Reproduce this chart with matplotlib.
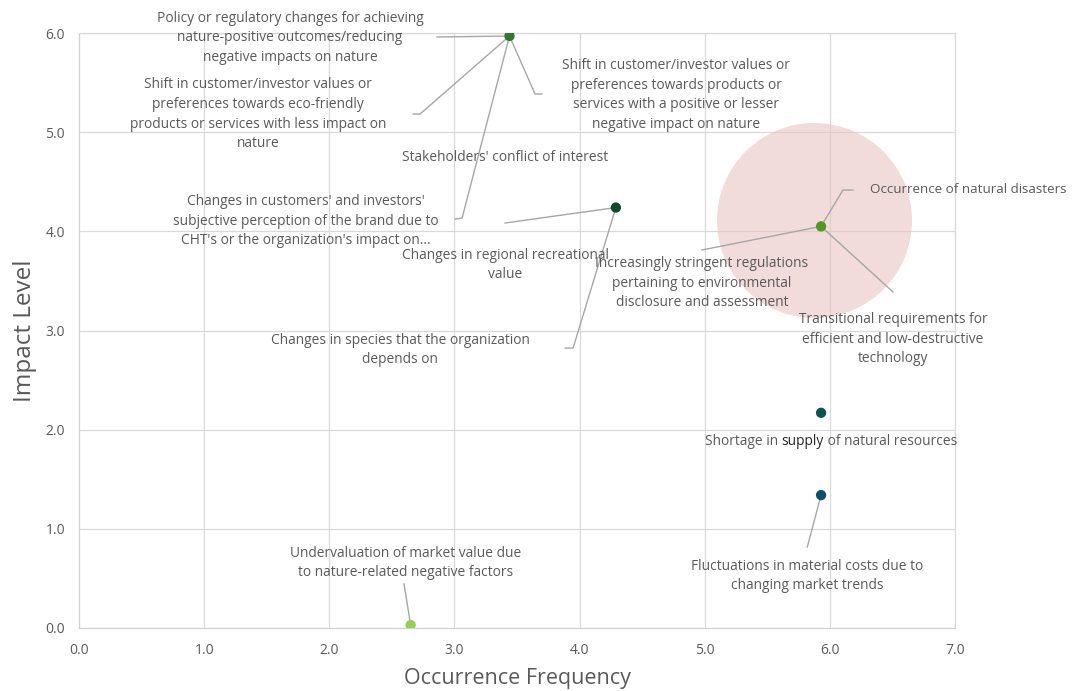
import matplotlib.pyplot as plt

# Risques nature : fréquence vs impact
occurrence = [3.44, 4.29, 5.93, 5.93, 5.93, 2.65]
impact = [5.97, 4.24, 4.05, 2.17, 1.34, 0.03]
point_colors = ['#2f7a2a', '#0f4a2a', '#4e9a1e', '#0b5552', '#0c4f6e', '#92d050']

# bulle de mise en avant
bubble_x = [5.87]
bubble_y = [4.11]

x_ticks = [0, 1, 2, 3, 4, 5, 6, 7]
y_ticks = [0, 1, 2, 3, 4, 5, 6]

# (texte, index du point, position du texte, coude du trait, fin du trait)
labels = [
    ("Policy or regulatory changes for achieving\nnature-positive outcomes/reducing\nnegative impacts on nature",
     0, (1.686, 5.95), None, (2.86, 5.96)),
    ("Shift in customer/investor values or\npreferences towards eco-friendly\nproducts or services with less impact on\nnature",
     0, (1.43, 5.18), (2.725, 5.183), (2.669, 5.183)),
    ("Shift in customer/investor values or\npreferences towards products or\nservices with a positive or lesser\nnegative impact on nature",
     0, (4.771, 5.375), (3.644, 5.385), (3.70, 5.385)),
    ("Stakeholders' conflict of interest", None, (3.404, 4.749), None, None),
    ("Changes in customers' and investors'\nsubjective perception of the brand due to\nCHT's or the organization's impact on...",
     0, (1.814, 4.104), (3.061, 4.134), (3.005, 4.124)),
    ("Changes in regional recreational\nvalue", 1, (3.404, 3.66), None, (3.404, 4.084)),
    ("Changes in species that the organization\ndepends on", 1, (2.565, 2.803), (3.948, 2.823), (3.884, 2.823)),
    ("Increasingly stringent regulations\npertaining to environmental\ndisclosure and assessment",
     2, (4.978, 3.479), None, (4.978, 3.812)),
    ("Transitional requirements for\nefficient and low-destructive\ntechnology", 2, (6.505, 2.914), None, (6.505, 3.388)),
    ("Fluctuations in material costs due to\nchanging market trends", 4, (5.817, 0.524), None, (5.82, 0.817)),
    ("Undervaluation of market value due\nto nature-related negative factors", 5, (2.613, 0.655), None, (2.597, 0.444)),
]

text_color = '#595959'
leader_color = '#a6a6a6'
font = ['Open Sans', 'DejaVu Sans']
fs = 9.9

plt.rcParams['font.family'] = font

fig = plt.figure(figsize=(10.77, 6.91), dpi=100)
ax = fig.add_axes([0.0734, 0.0912, 0.8133, 0.861])

ax.scatter(bubble_x, bubble_y, s=19700, color='#e8c3c3', alpha=0.6, linewidths=0, zorder=1)
ax.scatter(occurrence, impact, s=55, c=point_colors, linewidths=0, zorder=4)

for txt, idx, pos, elbow, end in labels:
    ax.text(pos[0], pos[1], txt, ha='center', va='center', fontsize=fs,
            color=text_color, linespacing=1.42, zorder=5)
    if idx is None:
        continue
    px, py = occurrence[idx], impact[idx]
    if elbow is not None:
        ax.plot([px, elbow[0], end[0]], [py, elbow[1], end[1]], color=leader_color, lw=1, zorder=3)
    else:
        ax.plot([px, end[0]], [py, end[1]], color=leader_color, lw=1, zorder=3)

# libellé catastrophes naturelles (aligné à gauche)
ax.plot([occurrence[2], 6.105, 6.185], [impact[2], 4.417, 4.417], color=leader_color, lw=1, zorder=3)
ax.text(6.321, 4.417, "Occurrence of natural disasters", ha='left', va='center', fontsize=9.6,
        color=text_color, zorder=5)

# "supply" en plus foncé
t1 = ax.text(5.0, 1.876, "Shortage in ", ha='left', va='center', fontsize=fs, color=text_color, zorder=5)
t2 = ax.annotate("supply", xy=(1, 0), xycoords=t1, ha='left', va='bottom', fontsize=fs,
                 color='#262626', zorder=5)
ax.annotate(" of natural resources", xy=(1, 0), xycoords=t2, ha='left', va='bottom', fontsize=fs,
            color=text_color, zorder=5)

ax.set_xlim(0, 7)
ax.set_ylim(0, 6)
ax.set_xticks(x_ticks)
ax.set_yticks(y_ticks)
ax.set_xticklabels([f"{v:.1f}" for v in x_ticks])
ax.set_yticklabels([f"{v:.1f}" for v in y_ticks])
ax.tick_params(length=0, colors=text_color, labelsize=10)
ax.tick_params(axis='x', pad=11)
ax.tick_params(axis='y', pad=10)
ax.grid(True, color='#d9d9d9', lw=0.9)
ax.set_axisbelow(True)
for side in ['top', 'right']:
    ax.spines[side].set_color('#d9d9d9')
    ax.spines[side].set_linewidth(0.9)
for side in ['left', 'bottom']:
    ax.spines[side].set_color('#d0d0d0')

ax.set_xlabel('Occurrence Frequency', fontsize=15.5, color=text_color, labelpad=7)
ax.set_ylabel('Impact Level', fontsize=17.5, color=text_color, labelpad=6)

fig.savefig('out.png', dpi=100)
